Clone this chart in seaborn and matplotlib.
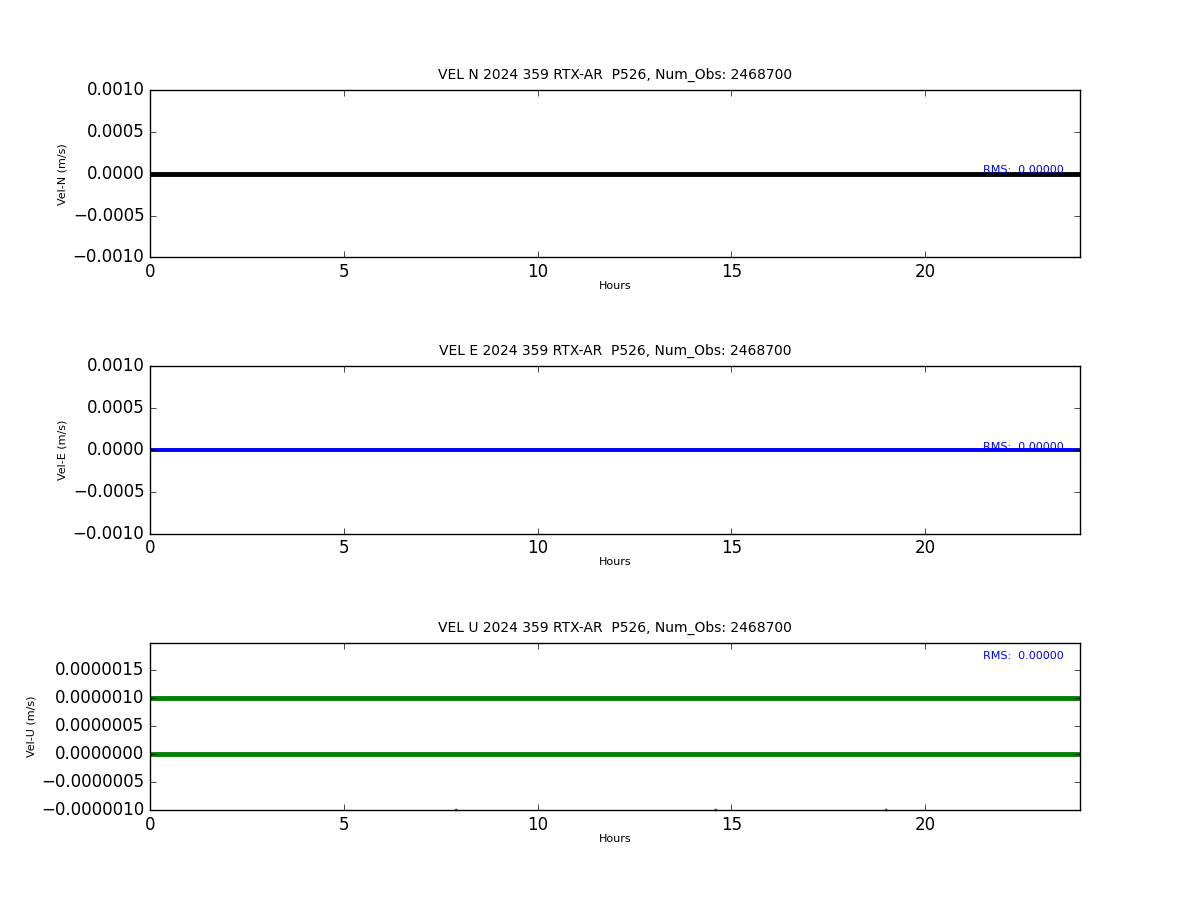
import matplotlib
matplotlib.use('Agg')
import matplotlib.pyplot as plt
import numpy as np
import pandas as pd
import seaborn as sns

plt.style.use('classic')

title_tail = '2024 359 RTX-AR  P526, Num_Obs: 2468700'

# hours span of the day
hours = [0.0, 24.0]
vel_n = [0.0, 0.0]
vel_e = [0.0, 0.0]
# up component sits on two quantised levels, a few odd points below
vel_u_low = [0.0, 0.0]
vel_u_high = [1.0e-6, 1.0e-6]
u_out_hours = [7.9, 14.6, 19.0]
u_out_vals = [-1.0e-6, -1.0e-6, -1.0e-6]
rms_vals = [0.0, 0.0, 0.0]


def plot_comp(ax, comp, label, series, color, lw, ylim, yticks):
    for vals in series:
        df = pd.DataFrame({'Hours': hours, 'vel': vals})
        sns.lineplot(data=df, x='Hours', y='vel', color=color, lw=lw, ax=ax)
    ax.set_xlim(0, 24)
    ax.set_ylim(*ylim)
    ax.set_yticks(yticks)
    ax.set_title('VEL ' + comp + ' ' + title_tail, fontsize=10, pad=8)
    ax.set_xlabel('Hours', fontsize=8, labelpad=0)
    ax.set_ylabel(label, fontsize=8, labelpad=3.5)


fig, axes = plt.subplots(3, 1, figsize=(12, 9), dpi=100)
fig.subplots_adjust(left=0.125, right=0.9, top=0.9, bottom=0.1, hspace=0.65)

plot_comp(axes[0], 'N', 'Vel-N (m/s)', [vel_n], 'k', 3.5, (-0.001, 0.001),
          np.linspace(-0.001, 0.001, 5))
plot_comp(axes[1], 'E', 'Vel-E (m/s)', [vel_e], 'b', 2.8, (-0.001, 0.001),
          np.linspace(-0.001, 0.001, 5))
plot_comp(axes[2], 'U', 'Vel-U (m/s)', [vel_u_low, vel_u_high], 'g', 3.5,
          (-1.0e-6, 1.98e-6), np.linspace(-1.0e-6, 1.5e-6, 6))
sns.scatterplot(x=u_out_hours, y=u_out_vals, color='g', s=4, edgecolor='none',
                ax=axes[2], clip_on=False)

rms_y = [0.52, 0.52, 0.92]
for ax, r, yy in zip(axes, rms_vals, rms_y):
    ax.text(21.5, yy, 'RMS:  %.5f' % r, color='b', fontsize=8,
            transform=ax.get_xaxis_transform(), va='center')

fig.savefig('out.png', dpi=100)
